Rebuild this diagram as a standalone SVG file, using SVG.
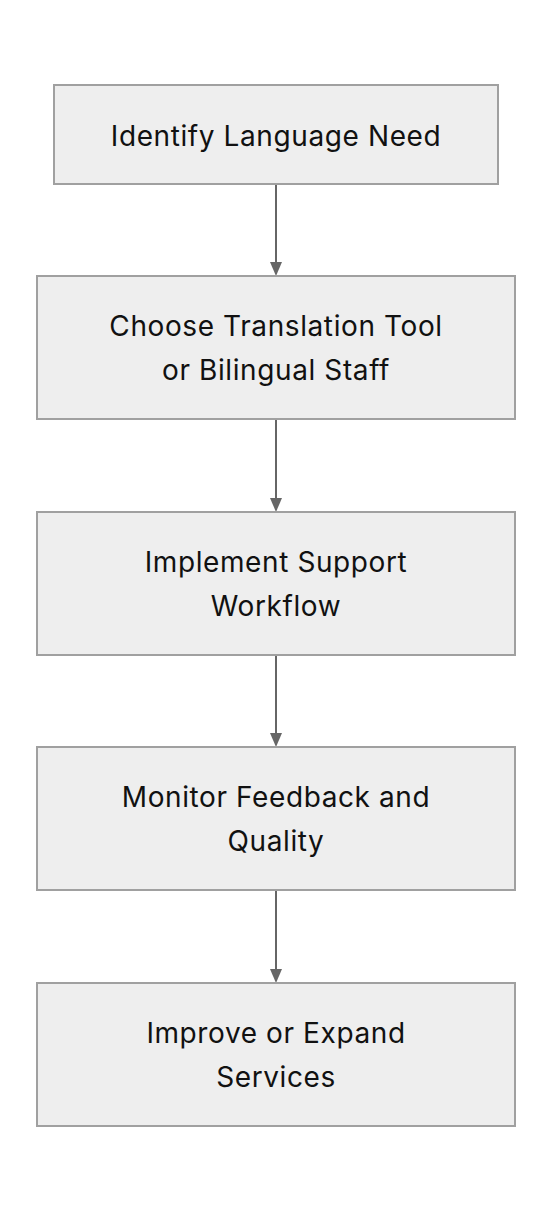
<svg xmlns="http://www.w3.org/2000/svg" width="552" height="1212" viewBox="0 0 552 1212">
<style>
.node rect{fill:#eeeeee;stroke:#a0a0a0;stroke-width:2}
.node text{font-family:Inter,"Noto Sans",sans-serif;font-size:28px;letter-spacing:0.6px;fill:#111;text-anchor:middle}
.edge{stroke:#666;stroke-width:2;fill:none}
.head{fill:#666}
</style>
<rect width="552" height="1212" fill="#fff"/>
<g id="connectors">
<line class="edge" x1="276" y1="185" x2="276" y2="262"/>
<path class="head" d="M270,262 L282,262 L276,276 Z"/>
<line class="edge" x1="276" y1="420" x2="276" y2="498"/>
<path class="head" d="M270,498 L282,498 L276,512 Z"/>
<line class="edge" x1="276" y1="656" x2="276" y2="733"/>
<path class="head" d="M270,733 L282,733 L276,747 Z"/>
<line class="edge" x1="276" y1="891" x2="276" y2="969"/>
<path class="head" d="M270,969 L282,969 L276,983 Z"/>
</g>
<g id="n1" class="node">
<rect x="54" y="85" width="444" height="99"/>
<text x="276" y="146">Identify Language Need</text>
</g>
<g id="n2" class="node">
<rect x="37" y="276" width="478" height="143"/>
<text x="276" y="336">Choose Translation Tool</text>
<text x="276" y="380">or Bilingual Staff</text>
</g>
<g id="n3" class="node">
<rect x="37" y="512" width="478" height="143"/>
<text x="276" y="572">Implement Support</text>
<text x="276" y="616">Workflow</text>
</g>
<g id="n4" class="node">
<rect x="37" y="747" width="478" height="143"/>
<text x="276" y="807">Monitor Feedback and</text>
<text x="276" y="851">Quality</text>
</g>
<g id="n5" class="node">
<rect x="37" y="983" width="478" height="143"/>
<text x="276" y="1043">Improve or Expand</text>
<text x="276" y="1087">Services</text>
</g>
</svg>
